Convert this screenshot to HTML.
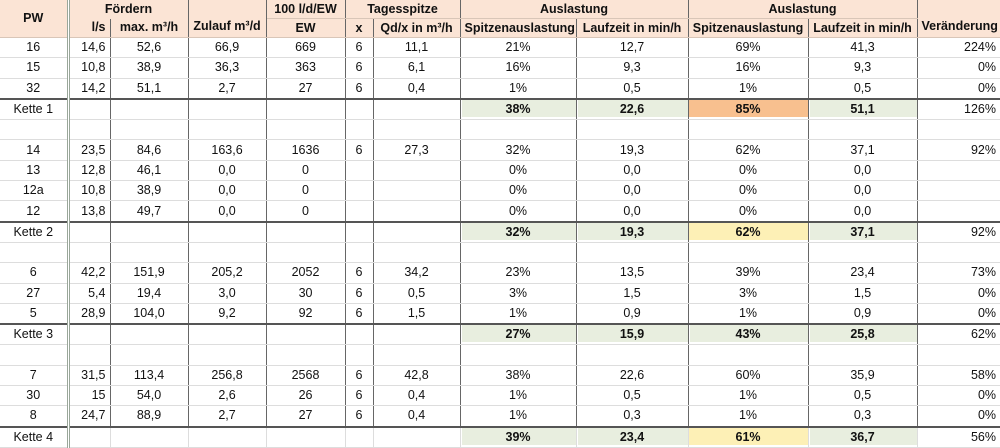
<!DOCTYPE html>
<html><head><meta charset="utf-8"><style>
html,body{margin:0;padding:0;background:#fff;}
body{width:1000px;height:444px;overflow:hidden;font-family:"Liberation Sans",sans-serif;font-size:12.5px;color:#111;}
table{border-collapse:collapse;table-layout:fixed;width:1000px;}
td,th{padding:0 4px;white-space:nowrap;overflow:hidden;text-align:center;border-bottom:1px solid #ddd;}
th{background:#fbe4d5;font-weight:bold;height:18px;line-height:17px;border-bottom:1px solid #d9c6b8;}
tr.d td{height:19.3px;line-height:19px;}
td.b,th.b{border-right:1px solid #666;}
td.pw,th.pw{border-right:3px double #9aa79a;}
.r{text-align:right;}
tr.k td{border-top:2px solid #555;}
tr.k td.g{background:#e8eedf;font-weight:bold;box-shadow:inset 0 -2px 0 #fff, inset 1px 0 0 #fff;}
tr.k td.o{background:#f8c08f;font-weight:bold;box-shadow:inset 0 -2px 0 #fff;}
tr.k td.y{background:#fdf0b6;font-weight:bold;box-shadow:inset 0 -2px 0 #fff;}
tr.last td.b{border-right-color:#ddd;}
</style></head><body>
<table>
<colgroup><col style="width:68px"><col style="width:42px"><col style="width:78px"><col style="width:78px"><col style="width:79px"><col style="width:28px"><col style="width:87px"><col style="width:116px"><col style="width:112px"><col style="width:120px"><col style="width:109px"><col style="width:83px"></colgroup>
<thead>
<tr>
<th rowspan="2" class="pw">PW</th>
<th colspan="2" class="b" style="border-bottom:none">Fördern</th>
<th rowspan="2" class="b" style="vertical-align:bottom;padding-bottom:2px">Zulauf m³/d</th>
<th class="b">100 l/d/EW</th>
<th colspan="2" class="b">Tagesspitze</th>
<th colspan="2" class="b">Auslastung</th>
<th colspan="2" class="b">Auslastung</th>
<th rowspan="2" style="vertical-align:bottom;padding-bottom:2px">Veränderung</th>
</tr>
<tr>
<th class="b r">l/s</th>
<th class="b">max. m³/h</th>
<th class="b">EW</th>
<th class="b">x</th>
<th class="b">Qd/x in m³/h</th>
<th class="b">Spitzenauslastung</th>
<th class="b">Laufzeit in min/h</th>
<th class="b">Spitzenauslastung</th>
<th class="b">Laufzeit in min/h</th>
</tr>
</thead>
<tbody id="tb"></tbody>
</table>
<script>
const rows = [
 ["16","14,6","52,6","66,9","669","6","11,1","21%","12,7","69%","41,3","224%"],
 ["15","10,8","38,9","36,3","363","6","6,1","16%","9,3","16%","9,3","0%"],
 ["32","14,2","51,1","2,7","27","6","0,4","1%","0,5","1%","0,5","0%"],
 ["K","Kette 1","38%","22,6","85%","51,1","126%","o"],
 ["","","","","","","","","","","",""],
 ["14","23,5","84,6","163,6","1636","6","27,3","32%","19,3","62%","37,1","92%"],
 ["13","12,8","46,1","0,0","0","","","0%","0,0","0%","0,0",""],
 ["12a","10,8","38,9","0,0","0","","","0%","0,0","0%","0,0",""],
 ["12","13,8","49,7","0,0","0","","","0%","0,0","0%","0,0",""],
 ["K","Kette 2","32%","19,3","62%","37,1","92%","y"],
 ["","","","","","","","","","","",""],
 ["6","42,2","151,9","205,2","2052","6","34,2","23%","13,5","39%","23,4","73%"],
 ["27","5,4","19,4","3,0","30","6","0,5","3%","1,5","3%","1,5","0%"],
 ["5","28,9","104,0","9,2","92","6","1,5","1%","0,9","1%","0,9","0%"],
 ["K","Kette 3","27%","15,9","43%","25,8","62%","g"],
 ["","","","","","","","","","","",""],
 ["7","31,5","113,4","256,8","2568","6","42,8","38%","22,6","60%","35,9","58%"],
 ["30","15","54,0","2,6","26","6","0,4","1%","0,5","1%","0,5","0%"],
 ["8","24,7","88,9","2,7","27","6","0,4","1%","0,3","1%","0,3","0%"],
 ["K","Kette 4","39%","23,4","61%","36,7","56%","y"]
];
const tb = document.getElementById('tb');
rows.forEach((r,i)=>{
  const tr=document.createElement('tr');
  
  
  let cells;
  if(r[0]==='K'){
    tr.className='d k'+(i===rows.length-1?' last':'');
    cells=[r[1],"","","","","","",r[2],r[3],r[4],r[5],r[6]];
  } else { tr.className='d'; cells=r; }
  cells.forEach((c,j)=>{
    const td=document.createElement('td');
    
    
    td.textContent=c;
    let cls=[];
    if(j===0) cls.push('pw'); else if(j<11) cls.push('b');
    if(j===1||j===11) cls.push('r');
    if(r[0]==='K'){
      if(j===7||j===8||j===10) cls.push('g');
      if(j===9) cls.push(r[7]);
    }
    td.className=cls.join(' ');
    tr.appendChild(td);
  });
  tb.appendChild(tr);
});
</script>
</body></html>
